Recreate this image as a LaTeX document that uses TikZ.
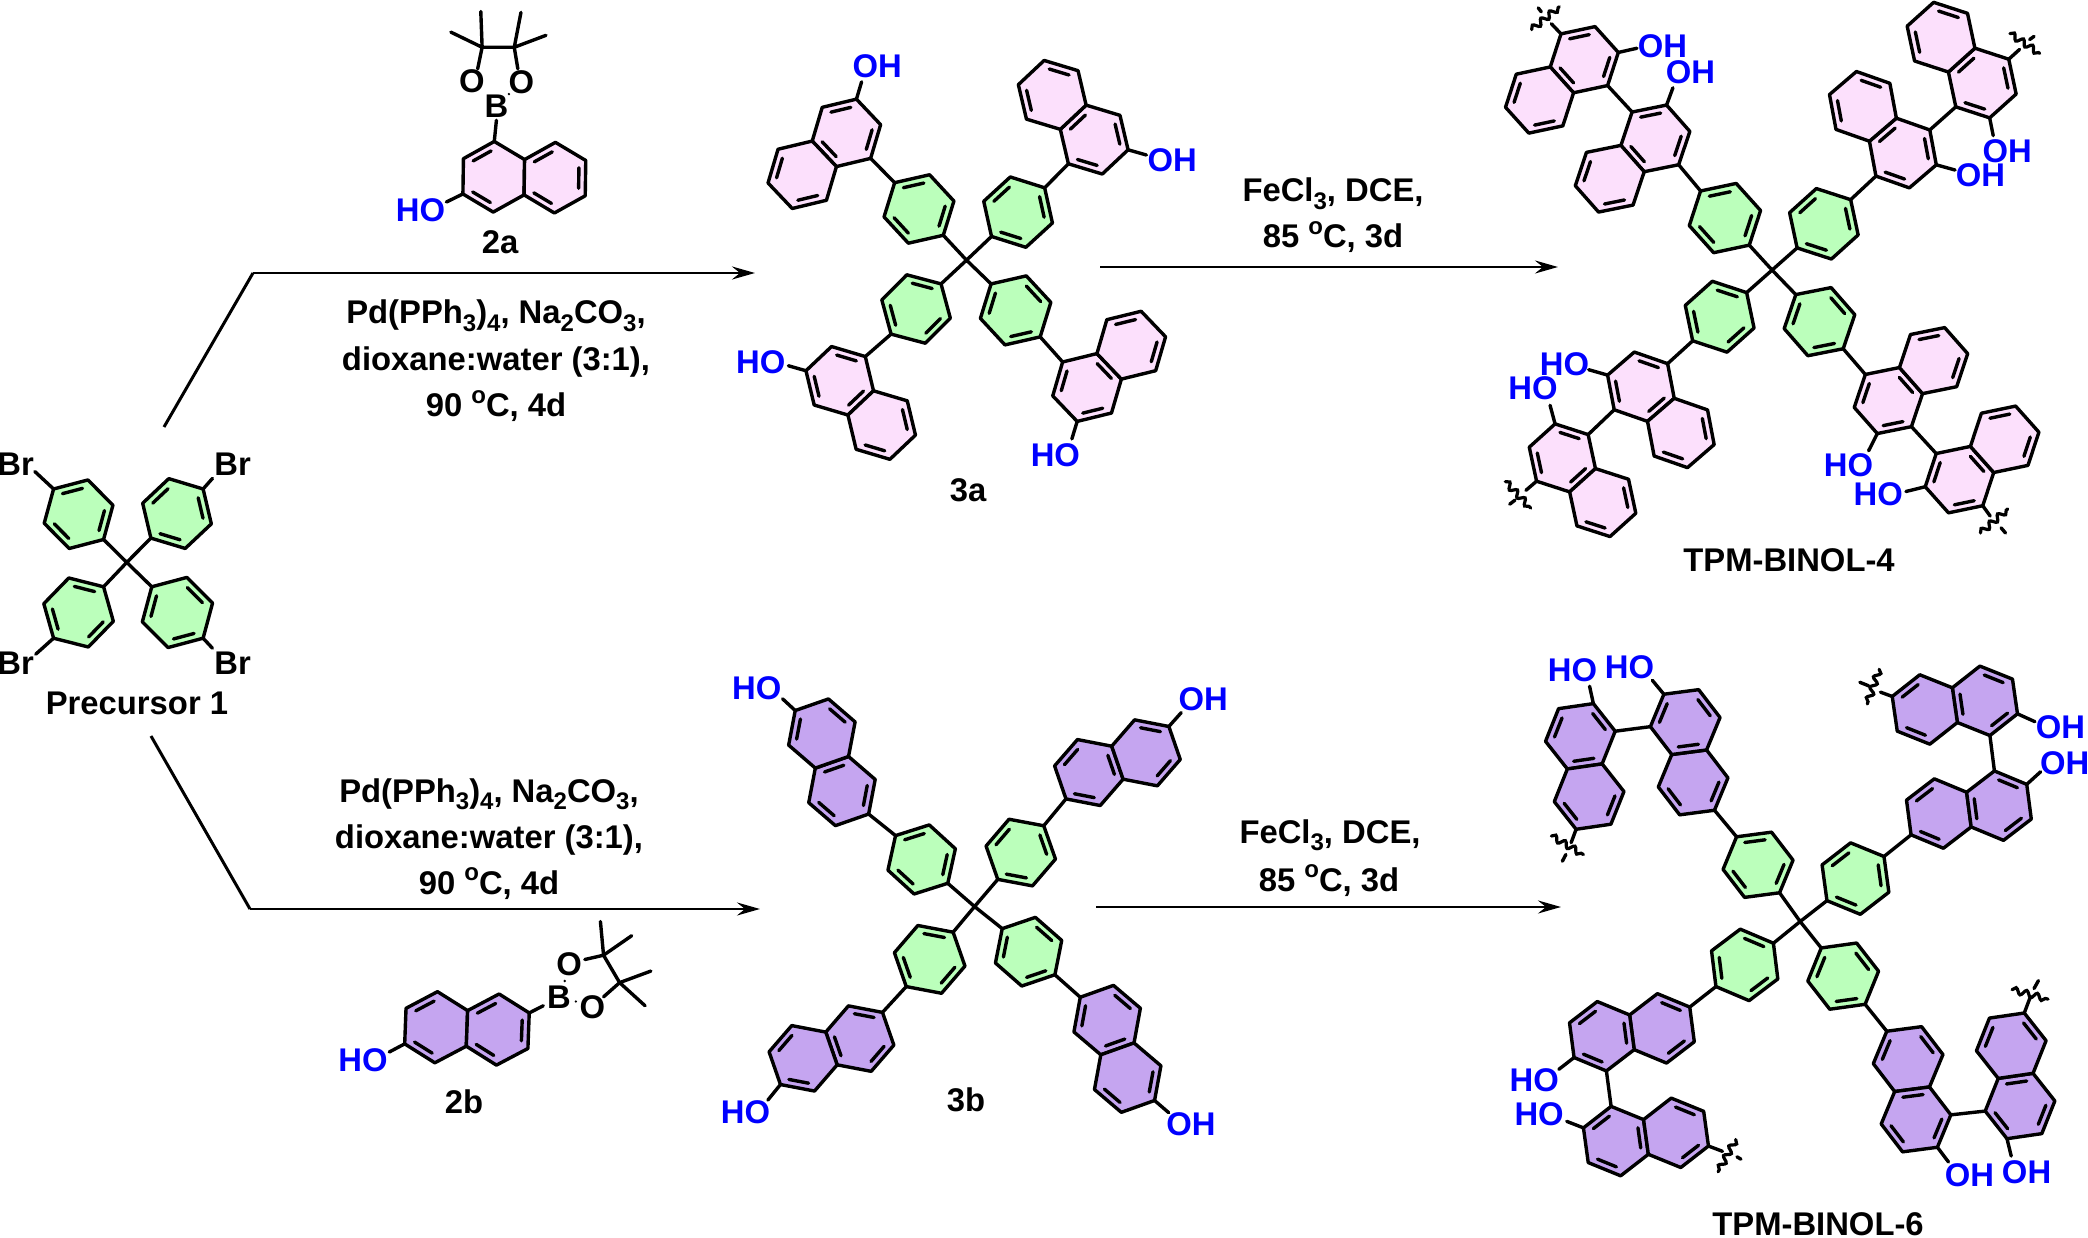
\documentclass[tikz,border=0pt]{standalone}
\usepackage{fontspec}
\setmainfont{Liberation Sans}
\usetikzlibrary{calc,arrows.meta,decorations.pathmorphing}
\definecolor{pinkf}{RGB}{252,224,252}
\definecolor{greenf}{RGB}{187,255,187}
\definecolor{purplef}{RGB}{197,165,240}
\definecolor{oh}{RGB}{0,0,255}
\newcommand\zsetup[4]{\def\ox{#1}\def\oy{#2}\def\fx{#3}\def\fy{#4}%
  \pgfmathsetmacro\sx{1/#3}\pgfmathsetmacro\sy{1/#4}}
\newcommand\subs[1]{\raisebox{-.24em}{\fontsize{24}{24}\selectfont #1}}
\newcommand\supo{\raisebox{.42em}{\fontsize{24}{24}\selectfont o}}
% ring drawn from named vertices
\newcommand\Ring[3]{%
  \fill[#2] (#1 0)--(#1 1)--(#1 2)--(#1 3)--(#1 4)--(#1 5)--cycle;
  \draw[bond] (#1 0)--(#1 1)--(#1 2)--(#1 3)--(#1 4)--(#1 5)--cycle;
  \foreach \e in {#3}{%
    \pgfmathtruncatemacro\nxt{mod(\e+1,6)}%
    \draw[bond,shorten >=3.5pt,shorten <=3.5pt] ($(#1 c)!.78!(#1 \e)$) -- ($(#1 c)!.78!(#1 \nxt)$);
  }%
}
% naphthalene from its two ring centres: name, fill, c1x,c1y, c2x,c2y, edges A, edges B
\newcommand\Naph[8]{%
  \pgfmathsetmacro\mAx{#3/\fx}\pgfmathsetmacro\mAy{#4/\fy}%
  \pgfmathsetmacro\mBx{#5/\fx}\pgfmathsetmacro\mBy{#6/\fy}%
  \pgfmathsetmacro\mTx{(\mBx-\mAx)/sqrt(3)}\pgfmathsetmacro\mTy{(\mBy-\mAy)/sqrt(3)}%
  \pgfmathsetmacro\mMy{-\mAy}\pgfmathsetmacro\mNy{-\mBy}%
  \coordinate (#1a c) at (\mAx pt,\mMy pt);
  \coordinate (#1b c) at (\mBx pt,\mNy pt);
  \foreach \i in {0,...,5}{%
    \pgfmathsetmacro\ang{30+60*\i}%
    \pgfmathsetmacro\mPx{\mAx+\mTx*cos(\ang)-\mTy*sin(\ang)}%
    \pgfmathsetmacro\mPy{-(\mAy+\mTx*sin(\ang)+\mTy*cos(\ang))}%
    \pgfmathsetmacro\mQx{\mBx+\mTx*cos(\ang)-\mTy*sin(\ang)}%
    \pgfmathsetmacro\mQy{-(\mBy+\mTx*sin(\ang)+\mTy*cos(\ang))}%
    \coordinate (#1a \i) at (\mPx pt,\mPy pt);
    \coordinate (#1b \i) at (\mQx pt,\mQy pt);
  }
  \Ring{#1a}{#2}{#7}
  \Ring{#1b}{#2}{#8}
}
% benzene from attachment vertex and its para vertex
\newcommand\Benz[5]{%
  \pgfmathsetmacro\mAx{#2/\fx}\pgfmathsetmacro\mAy{#3/\fy}%
  \pgfmathsetmacro\mBx{#4/\fx}\pgfmathsetmacro\mBy{#5/\fy}%
  \pgfmathsetmacro\mCx{(\mAx+\mBx)/2}\pgfmathsetmacro\mCy{(\mAy+\mBy)/2}%
  \pgfmathsetmacro\mTx{(\mAx-\mBx)/2}\pgfmathsetmacro\mTy{(\mAy-\mBy)/2}%
  \pgfmathsetmacro\mMy{-\mCy}%
  \coordinate (#1 c) at (\mCx pt,\mMy pt);
  \foreach \i in {0,...,5}{%
    \pgfmathsetmacro\ang{60*\i}%
    \pgfmathsetmacro\mPx{\mCx+\mTx*cos(\ang)-\mTy*sin(\ang)}%
    \pgfmathsetmacro\mPy{-(\mCy+\mTx*sin(\ang)+\mTy*cos(\ang))}%
    \coordinate (#1 \i) at (\mPx pt,\mPy pt);
  }
  \Ring{#1}{greenf}{1,3,5}
}
\newcommand\Stub[4]{\coordinate (#1s) at (#3,#4); \draw[bond] (#2) -- (#1s);}
\newcommand\Lab[4]{\node[ohlab] (#1) at (#2,#3) {#4};}
\newcommand\Wv[7]{\coordinate (w#1) at (#2,#3); \draw[bond] (#1) -- (w#1);
  \draw[wavy] (#4,#5) -- (#6,#7);}
\newcommand\Ds[4]{\draw[bond] (#1,#2) -- (#3,#4);}
\tikzset{
  zframe/.style={shift={(\ox,\oy)},x=\sx pt,y=-\sy pt},
  bond/.style={line width=3.4pt,line join=round,line cap=round,black},
  arr/.style={line width=2.4pt,line join=miter,-{Stealth[length=23pt,width=13pt,inset=8pt]}},
  seg/.style={line width=2.6pt,line join=miter},
  wavy/.style={line width=3.2pt,line cap=round,decorate,decoration={snake,amplitude=3pt,segment length=11pt}},
  txt/.style={inner sep=0pt,outer sep=0pt,font=\fontsize{32.8}{36}\selectfont\bfseries,anchor=base},
  ohlab/.style={inner sep=0pt,outer sep=0pt,font=\fontsize{32.8}{36}\selectfont\bfseries,text=oh,anchor=center},
  atm/.style={inner sep=0pt,outer sep=0pt,font=\fontsize{32.8}{36}\selectfont\bfseries,anchor=center},
}
\begin{document}
\begin{tikzpicture}[x=1pt,y=-1pt]
\useasboundingbox (0,0) rectangle (2088,1238);
\fill[white] (0,0) rectangle (2088,1238);
% ---------- arrows ----------
\coordinate (t0) at (164,427); \coordinate (t1) at (253,273); \coordinate (t2) at (755,273);
\draw[seg,line width=3pt] (t0) -- (t1);
\draw[arr] (t1) -- (t2);
\coordinate (b0) at (151,736); \coordinate (b1) at (250,909); \coordinate (b2) at (760,909);
\draw[seg,line width=3pt] (b0) -- (b1);
\draw[arr] (b1) -- (b2);
\coordinate (u0) at (1100,267); \coordinate (u1) at (1558,267);
\draw[arr] (u0) -- (u1);
\coordinate (v0) at (1096,907); \coordinate (v1) at (1561,907);
\draw[arr] (v0) -- (v1);
% ---------- reagents ----------
\node[txt] (r1) at (496,324) {Pd(PPh\subs{3})\subs{4}, Na\subs{2}CO\subs{3},};
\node[txt] (r2) at (496,371) {dioxane:water (3:1),};
\node[txt] (r3) at (496,417) {90 \supo C, 4d};
\node[txt] (r4) at (489,802) {Pd(PPh\subs{3})\subs{4}, Na\subs{2}CO\subs{3},};
\node[txt] (r5) at (489,848) {dioxane:water (3:1),};
\node[txt] (r6) at (489,894) {90 \supo C, 4d};
\node[txt] (r7) at (1333,202) {FeCl\subs{3}, DCE,};
\node[txt] (r8) at (1333,248) {85 \supo C, 3d};
\node[txt] (r9) at (1330,843) {FeCl\subs{3}, DCE,};
\node[txt] (r10) at (1329,891) {85 \supo C, 3d};
% ---------- compound names ----------
\node[txt] (n1) at (137,714) {Precursor 1};
\node[txt] (n2) at (500,254) {2a};
\node[txt] (n3) at (968,501) {3a};
\node[txt] (n4) at (464,1113) {2b};
\node[txt] (n5) at (966,1111) {3b};
\node[txt] (n6) at (1789,571) {TPM-BINOL-4};
\node[txt] (n7) at (1818,1235) {TPM-BINOL-6};
% ---------- precursor 1 and 2a ----------
\zsetup{0}{0}{2.24}{2.178}
\begin{scope}[zframe]
\coordinate (pc) at (284,1225);
\Benz{pA}{232}{1175}{120}{1065}
\Benz{pB}{338}{1172}{455}{1065}
\Benz{pC}{232}{1278}{120}{1390}
\Benz{pD}{340}{1278}{455}{1390}
\draw[bond] (pc)--(pA 0) (pc)--(pB 0) (pc)--(pC 0) (pc)--(pD 0);
\node[atm] (brA) at (35,1012) {Br};
\node[atm] (brB) at (521,1012) {Br};
\node[atm] (brC) at (35,1445) {Br};
\node[atm] (brD) at (521,1445) {Br};
\Stub{brA}{pA 3}{78}{1027}
\Stub{brB}{pB 3}{476}{1042}
\Stub{brC}{pC 3}{80}{1425}
\Stub{brD}{pD 3}{476}{1412}
% 2a
\Naph{ma}{pinkf}{1106}{385}{1243}{387}{1,3}{1,3,5}
\Lab{maoh}{942}{458}{HO}
\Stub{maoh}{maa 2}{1000}{440}
\node[atm] (mab) at (1112,232) {B};
\node[atm] (mao1) at (1057,177) {O};
\node[atm] (mao2) at (1168,180) {O};
\Stub{mab}{maa 4}{1112}{262}
\coordinate (q1) at (1080,103); \coordinate (q2) at (1152,103);
\draw[bond] (1070,150)--(q1)--(q2)--(1160,150);
\draw[bond] (q1)--(1010,70) (q1)--(1077,25) (q2)--(1167,27) (q2)--(1223,77);
\fill (1140,205) circle (1.3pt);
\end{scope}
% ---------- 2b ----------
\zsetup{0}{720}{2.24}{3.027}
\begin{scope}[zframe]
\Naph{mb}{purplef}{977}{930}{1115}{937}{1,3}{1,3,5}
\Lab{mboh}{813}{1030}{HO}
\Stub{mboh}{mba 2}{872}{1005}
\node[atm] (mbB) at (1252,838) {B};
\node[atm] (mbo1) at (1275,738) {O};
\node[atm] (mbo2) at (1327,868) {O};
\Stub{mbB}{mbb 5}{1217}{865}
\coordinate (q3) at (1352,712); \coordinate (q4) at (1388,795);
\draw[bond] (1310,725)--(q3)--(q4)--(1352,838);
\draw[bond] (q3)--(1345,610) (q3)--(1415,653) (q4)--(1458,760) (q4)--(1445,865);
\fill (1265,790) circle (1.3pt);
\fill (1290,852) circle (1.3pt);
\end{scope}
% ---------- 3a ----------
\zsetup{700}{0}{2.24}{2.529}
\begin{scope}[zframe]
\coordinate (ac) at (597,658);
\Benz{aA}{545}{595}{436}{462}
\Benz{aB}{653}{598}{772}{475}
\Benz{aC}{540}{718}{428}{845}
\Benz{aD}{652}{718}{762}{852}
\draw[bond] (ac)--(aA 0) (ac)--(aB 0) (ac)--(aC 0) (ac)--(aD 0);
\Naph{a1}{pinkf}{328}{336}{229}{442}{1,3,5}{0,4}
\Naph{a2}{pinkf}{883}{353}{789}{240}{1,3,5}{0,4}
\Naph{a3}{pinkf}{313}{963}{407}{1075}{1,3,5}{0,4}
\Naph{a4}{pinkf}{867}{980}{966}{873}{1,3,5}{0,4}
\draw[bond] (aA 3)--(a1a 4) (aB 3)--(a2a 4) (aC 3)--(a3a 4) (aD 3)--(a4a 4);
\Lab{aoh1}{397}{167}{OH}\Stub{aoh1}{a1a 2}{362}{207}
\Lab{aoh2}{1058}{405}{OH}\Stub{aoh2}{a2a 2}{1000}{392}
\Lab{aoh3}{136}{915}{HO}\Stub{aoh3}{a3a 2}{198}{925}
\Lab{aoh4}{796}{1150}{HO}\Stub{aoh4}{a4a 2}{833}{1110}
\end{scope}
% ---------- 3b ----------
\zsetup{700}{620}{2.24}{2.537}
\begin{scope}[zframe]
\coordinate (bc) at (615,727);
\Benz{bA}{555}{668}{438}{547}
\Benz{bB}{667}{658}{770}{522}
\Benz{bC}{567}{792}{462}{930}
\Benz{bD}{677}{783}{795}{900}
\draw[bond] (bc)--(bA 0) (bc)--(bB 0) (bc)--(bC 0) (bc)--(bD 0);
\Naph{b1}{purplef}{318}{434}{273}{288}{1,3,5}{0,4}
\Naph{b2}{purplef}{871}{387}{999}{337}{1,3,5}{0,4}
\Naph{b3}{purplef}{358}{1062}{231}{1112}{1,3,5}{0,4}
\Naph{b4}{purplef}{912}{1015}{958}{1161}{1,3,5}{0,4}
\draw[bond] (bA 3)--(b1a 2) (bB 3)--(b2a 2) (bC 3)--(b3a 2) (bD 3)--(b4a 2);
\Lab{boh1}{127}{173}{HO}\Stub{boh1}{b1b 5}{185}{200}
\Lab{boh2}{1127}{202}{OH}\Stub{boh2}{b2b 5}{1078}{235}
\Lab{boh3}{102}{1248}{HO}\Stub{boh3}{b3b 5}{152}{1218}
\Lab{boh4}{1100}{1278}{OH}\Stub{boh4}{b4b 5}{1050}{1250}
\end{scope}
% ---------- TPM-BINOL-4 ----------
\zsetup{1400}{0}{2.279}{2.529}
\begin{scope}[zframe]
\coordinate (cc) at (848,683);
\Benz{cA}{796}{620}{685}{483}
\Benz{cB}{905}{627}{1027}{505}
\Benz{cC}{790}{740}{667}{862}
\Benz{cD}{902}{745}{1010}{882}
\draw[bond] (cc)--(cA 0) (cc)--(cB 0) (cc)--(cC 0) (cc)--(cD 0);
\Naph{c1}{pinkf}{582}{350}{478}{452}{1,3,5}{0,4}
\Naph{c2}{pinkf}{1146}{387}{1055}{269}{1,3,5}{0,4}
\Naph{c3}{pinkf}{549}{978}{640}{1095}{1,3,5}{0,4}
\Naph{c4}{pinkf}{1113}{1013}{1216}{912}{1,3,5}{0,4}
\Naph{d1}{pinkf}{420}{151}{318}{253}{1,3,5}{0,4}
\Naph{d2}{pinkf}{1327}{210}{1233}{94}{1,3,5}{0,4}
\Naph{d3}{pinkf}{370}{1158}{462}{1271}{1,3,5}{0,4}
\Naph{d4}{pinkf}{1275}{1213}{1378}{1111}{1,3,5}{0,4}
\draw[bond] (cA 3)--(c1a 4) (cB 3)--(c2a 4) (cC 3)--(c3a 4) (cD 3)--(c4a 4);
\draw[bond] (c1a 1)--(d1a 4) (c2a 1)--(d2a 4) (c3a 1)--(d3a 4) (c4a 1)--(d4a 4);
\Lab{coh1}{662}{183}{OH}\Stub{coh1}{c1a 2}{622}{222}
\Lab{coh2}{1323}{443}{OH}\Stub{coh2}{c2a 2}{1265}{430}
\Lab{coh3}{375}{922}{HO}\Stub{coh3}{c3a 2}{430}{935}
\Lab{coh4}{1022}{1177}{HO}\Stub{coh4}{c4a 2}{1068}{1140}
\Lab{doh1}{598}{117}{OH}\Stub{doh1}{d1a 3}{540}{122}
\Lab{doh2}{1384}{383}{OH}\Stub{doh2}{d2a 3}{1352}{343}
\Lab{doh3}{303}{983}{HO}\Stub{doh3}{d3a 3}{342}{1025}
\Lab{doh4}{1090}{1250}{HO}\Stub{doh4}{d4a 3}{1153}{1243}
\Wv{d1a 1}{345}{60}{300}{75}{363}{17}\Ds{315}{20}{322}{30}
\Wv{d2a 1}{1412}{125}{1390}{85}{1458}{135}\Ds{1435}{100}{1445}{92}
\Wv{d3a 1}{287}{1240}{240}{1218}{298}{1285}\Ds{250}{1275}{262}{1265}
\Wv{d4a 1}{1345}{1305}{1323}{1348}{1385}{1287}\Ds{1370}{1335}{1380}{1348}
\end{scope}
% ---------- TPM-BINOL-6 ----------
\zsetup{1400}{620}{2.279}{2.537}
\begin{scope}[zframe]
\coordinate (ec) at (912,765);
\Benz{eA}{865}{692}{767}{550}
\Benz{eB}{973}{712}{1103}{600}
\Benz{eC}{851}{820}{720}{930}
\Benz{eD}{960}{832}{1060}{975}
\draw[bond] (ec)--(eA 0) (ec)--(eB 0) (ec)--(eC 0) (ec)--(eD 0);
\Naph{e1}{purplef}{668}{412}{650}{259}{1,3}{0,2,4}
\Naph{e2}{purplef}{1228}{491}{1365}{471}{1,3}{0,2,4}
\Naph{e3}{purplef}{597}{1036}{460}{1056}{1,3}{0,2,4}
\Naph{e4}{purplef}{1158}{1114}{1176}{1267}{1,3}{0,2,4}
\Naph{f1}{purplef}{411}{295}{431}{448}{1,3,5}{0,4}
\Naph{f2}{purplef}{1333}{205}{1196}{227}{1,3,5}{0,4}
\Naph{f3}{purplef}{492}{1322}{629}{1301}{1,3,5}{0,4}
\Naph{f4}{purplef}{1413}{1233}{1393}{1080}{1,3,5}{0,4}
\draw[bond] (eA 3)--(e1a 2) (eB 3)--(e2a 2) (eC 3)--(e3a 2) (eD 3)--(e4a 2);
\draw[bond] (e1b 4)--(f1a 4) (e2b 4)--(f2a 4) (e3b 4)--(f3a 4) (e4b 4)--(f4a 4);
\Lab{eoh1}{523}{120}{HO}\Stub{eoh1}{e1b 5}{575}{153}
\Lab{eoh2}{1515}{363}{OH}\Stub{eoh2}{e2b 5}{1460}{385}
\Lab{eoh3}{306}{1167}{HO}\Stub{eoh3}{e3b 5}{362}{1140}
\Lab{eoh4}{1298}{1408}{OH}\Stub{eoh4}{e4b 5}{1250}{1375}
\Lab{foh1}{393}{128}{HO}\Stub{foh1}{f1a 3}{432}{168}
\Lab{foh2}{1505}{272}{OH}\Stub{foh2}{f2a 3}{1447}{258}
\Lab{foh3}{317}{1255}{HO}\Stub{foh3}{f3a 3}{380}{1272}
\Lab{foh4}{1428}{1402}{OH}\Stub{foh4}{f4a 3}{1393}{1360}
\Wv{f1b 0}{390}{565}{345}{548}{418}{595}\Ds{378}{595}{370}{612}
\Wv{f2b 0}{1095}{183}{1092}{125}{1065}{213}\Ds{1048}{158}{1068}{167}
\Wv{f3b 0}{735}{1348}{765}{1318}{725}{1400}\Ds{768}{1362}{777}{1368}
\Wv{f4b 0}{1437}{955}{1395}{938}{1477}{962}\Ds{1445}{935}{1455}{915}
\end{scope}
\end{tikzpicture}
\end{document}
